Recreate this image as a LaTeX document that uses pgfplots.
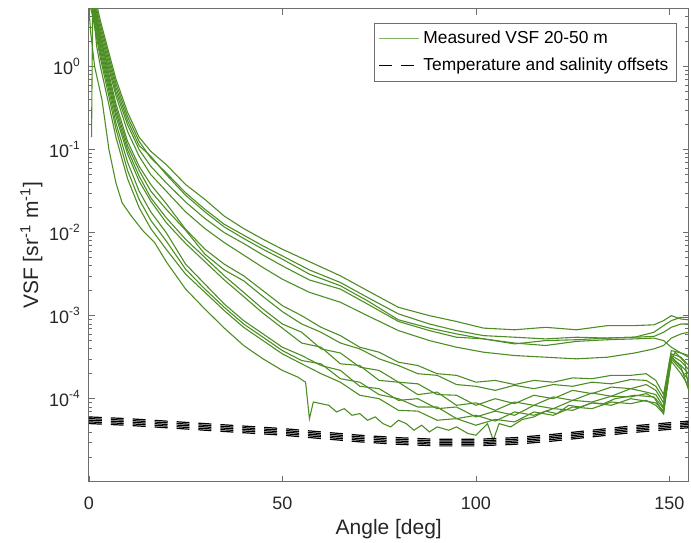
\documentclass[border=0pt]{standalone}
\usepackage{pgfplots}
\pgfplotsset{compat=1.18}
\usepackage{pgfplotstable}
\usepackage{fontspec}
\setmainfont{Liberation Sans}

\definecolor{vsfgreen}{RGB}{77,142,36}
\definecolor{axgray}{RGB}{110,110,110}
\definecolor{txtgray}{RGB}{38,38,38}

% measured VSF, upper group
\pgfplotstableread{
x      u1       u2       u3       u4       u5
0      15.8     12.6     10       10       7.94
1      8.91     7.94     7.08     6.31     5.62
2      5.62     5.01     4.47     3.98     3.55
3      3.55     3.16     2.82     2.51     2.24
5      1.58     1.41     1.26     1.12     1.00
7      0.708    0.631    0.562    0.501    0.447
10     0.282    0.251    0.224    0.200    0.166
13     0.141    0.126    0.112    0.100    8.32e-2
16     9.55e-2  7.94e-2  8.32e-2  6.31e-2  5.01e-2
20     6.61e-2  5.25e-2  5.01e-2  3.98e-2  3.16e-2
25     3.80e-2  3.02e-2  2.82e-2  2.34e-2  1.78e-2
30     2.51e-2  1.91e-2  1.78e-2  1.48e-2  1.12e-2
35     1.58e-2  1.26e-2  1.17e-2  1.00e-2  7.59e-3
40     1.12e-2  9.33e-3  8.51e-3  7.41e-3  5.37e-3
45     8.32e-3  6.92e-3  6.31e-3  5.37e-3  3.80e-3
50     6.31e-3  5.25e-3  4.79e-3  3.98e-3  2.75e-3
57     4.47e-3  3.55e-3  3.16e-3  2.69e-3  1.91e-3
65     3.02e-3  2.51e-3  2.29e-3  2.09e-3  1.45e-3
72     2.00e-3  1.66e-3  1.51e-3  1.38e-3  1.00e-3
80     1.26e-3  1.05e-3  8.91e-4  8.51e-4  6.61e-4
88     1.00e-3  7.94e-4  7.08e-4  6.61e-4  5.01e-4
95     8.51e-4  6.61e-4  6.03e-4  5.50e-4  4.17e-4
102    7.08e-4  5.75e-4  5.25e-4  5.25e-4  3.63e-4
110    6.76e-4  5.50e-4  4.57e-4  4.68e-4  3.31e-4
118    7.24e-4  5.25e-4  5.01e-4  4.37e-4  3.16e-4
126    6.76e-4  5.50e-4  5.13e-4  4.90e-4  3.02e-4
134    7.59e-4  5.37e-4  5.37e-4  5.13e-4  3.16e-4
141    7.59e-4  5.50e-4  5.50e-4  5.25e-4  3.55e-4
146    7.76e-4  6.31e-4  5.62e-4  5.37e-4  3.98e-4
148.5  8.71e-4  7.59e-4  6.31e-4  5.01e-4  4.37e-4
150.5  1.00e-3  8.71e-4  7.24e-4  4.17e-4  5.37e-4
153    9.12e-4  9.55e-4  7.94e-4  3.55e-4  6.03e-4
155    8.91e-4  9.55e-4  7.94e-4  3.31e-4  6.31e-4
}\uppergrp

% measured VSF, lower group
\pgfplotstableread{
x      l1       l2       l3       l4       l5       l6
0      12.6     10       10       7.94     7.94     6.31
1      7.08     6.31     5.62     5.01     4.47     3.98
2      3.98     3.55     3.16     2.82     2.51     2.24
3      2.24     2.00     1.78     1.58     1.41     1.26
5      0.891    0.794    0.708    0.631    0.562    0.479
7      0.355    0.316    0.282    0.251    0.209    0.178
10     0.126    0.112    0.100    8.91e-2  7.08e-2  5.62e-2
13     6.31e-2  5.62e-2  4.79e-2  4.17e-2  3.16e-2  2.51e-2
16     3.80e-2  3.16e-2  2.63e-2  2.40e-2  1.78e-2  1.41e-2
20     2.24e-2  1.91e-2  1.51e-2  1.32e-2  1.00e-2  7.94e-3
25     1.10e-2  1.07e-2  8.32e-3  7.41e-3  4.17e-3  3.63e-3
30     6.31e-3  5.50e-3  5.01e-3  4.47e-3  2.40e-3  2.09e-3
35     4.17e-3  3.55e-3  3.02e-3  2.69e-3  1.38e-3  1.26e-3
40     3.02e-3  2.63e-3  1.91e-3  1.70e-3  8.71e-4  7.94e-4
45     2.00e-3  1.70e-3  1.20e-3  1.07e-3  6.03e-4  5.50e-4
50     1.32e-3  1.12e-3  7.94e-4  7.08e-4  4.17e-4  3.80e-4
55     1.00e-3  7.94e-4  6.31e-4  4.68e-4  3.31e-4  2.88e-4
60     7.24e-4  6.31e-4  3.98e-4  4.17e-4  2.51e-4  2.63e-4
65     5.75e-4  4.68e-4  3.55e-4  2.63e-4  2.19e-4  1.74e-4
70     4.17e-4  3.98e-4  2.40e-4  2.51e-4  1.41e-4  1.58e-4
75     3.63e-4  3.02e-4  2.19e-4  1.66e-4  1.32e-4  1.12e-4
80     2.75e-4  2.51e-4  1.58e-4  1.58e-4  9.55e-5  1.00e-4
85     2.51e-4  2.00e-4  1.51e-4  1.12e-4  1.00e-4  7.94e-5
90     2.00e-4  1.91e-4  1.12e-4  1.20e-4  7.59e-5  7.94e-5
95     1.91e-4  1.48e-4  1.10e-4  8.32e-5  7.94e-5  5.75e-5
100    1.58e-4  1.41e-4  8.32e-5  8.91e-5  6.03e-5  6.31e-5
105    1.66e-4  1.26e-4  1.00e-4  7.24e-5  7.08e-5  5.37e-5
110    1.48e-4  1.45e-4  8.71e-5  9.12e-5  6.31e-5  6.92e-5
115    1.66e-4  1.32e-4  1.10e-4  8.32e-5  8.32e-5  6.31e-5
120    1.58e-4  1.48e-4  1.00e-4  1.05e-4  7.59e-5  7.59e-5
125    1.78e-4  1.41e-4  1.26e-4  9.55e-5  9.55e-5  7.24e-5
130    1.74e-4  1.58e-4  1.15e-4  1.17e-4  9.12e-5  8.91e-5
135    1.91e-4  1.51e-4  1.38e-4  1.07e-4  1.07e-4  8.32e-5
140    1.91e-4  1.70e-4  1.32e-4  1.32e-4  1.05e-4  1.00e-4
144    2.00e-4  1.66e-4  1.48e-4  1.20e-4  1.15e-4  9.33e-5
146.5  1.66e-4  1.41e-4  1.26e-4  1.12e-4  1.00e-4  8.91e-5
148.5  1.12e-4  1.00e-4  8.91e-5  7.94e-5  7.59e-5  7.08e-5
150.5  3.80e-4  3.47e-4  3.31e-4  3.16e-4  3.02e-4  2.82e-4
153    3.55e-4  3.16e-4  2.82e-4  2.51e-4  2.24e-4  2.00e-4
155    3.16e-4  2.51e-4  2.24e-4  2.00e-4  1.66e-4  1.41e-4
}\lowergrp

% temperature and salinity offsets
\pgfplotstableread{
x    d1       d2       d3       d4       d5
0    6.03e-5  5.76e-5  5.50e-5  5.25e-5  5.02e-5
10   5.75e-5  5.49e-5  5.24e-5  5.01e-5  4.78e-5
20   5.37e-5  5.13e-5  4.90e-5  4.68e-5  4.47e-5
30   5.01e-5  4.78e-5  4.57e-5  4.36e-5  4.17e-5
40   4.68e-5  4.47e-5  4.27e-5  4.08e-5  3.89e-5
50   4.37e-5  4.17e-5  3.99e-5  3.81e-5  3.64e-5
60   3.98e-5  3.80e-5  3.63e-5  3.47e-5  3.31e-5
70   3.63e-5  3.47e-5  3.31e-5  3.16e-5  3.02e-5
80   3.39e-5  3.24e-5  3.09e-5  2.95e-5  2.82e-5
90   3.24e-5  3.09e-5  2.95e-5  2.82e-5  2.70e-5
100  3.24e-5  3.09e-5  2.95e-5  2.82e-5  2.70e-5
110  3.39e-5  3.24e-5  3.09e-5  2.95e-5  2.82e-5
120  3.72e-5  3.55e-5  3.39e-5  3.24e-5  3.09e-5
130  4.17e-5  3.98e-5  3.80e-5  3.63e-5  3.47e-5
140  4.68e-5  4.47e-5  4.27e-5  4.08e-5  3.89e-5
150  5.13e-5  4.90e-5  4.68e-5  4.47e-5  4.27e-5
155  5.37e-5  5.13e-5  4.90e-5  4.68e-5  4.47e-5
}\offsetdata

\begin{document}
\begin{tikzpicture}
\begin{axis}[
    width=300.5pt, height=237pt, scale only axis,
    xmin=0, xmax=155,
    ymode=log, ymin=1e-5, ymax=5,
    xtick={0,50,100,150},
    ytick={1e-4,1e-3,1e-2,1e-1,1},
    yticklabels={10\textsuperscript{-4},10\textsuperscript{-3},10\textsuperscript{-2},10\textsuperscript{-1},10\textsuperscript{0}},
    minor ytick={2e-5,3e-5,4e-5,5e-5,6e-5,7e-5,8e-5,9e-5,
                 2e-4,3e-4,4e-4,5e-4,6e-4,7e-4,8e-4,9e-4,
                 2e-3,3e-3,4e-3,5e-3,6e-3,7e-3,8e-3,9e-3,
                 2e-2,3e-2,4e-2,5e-2,6e-2,7e-2,8e-2,9e-2,
                 0.2,0.3,0.4,0.5,0.6,0.7,0.8,0.9,2,3,4},
    tick align=inside,
    major tick length=3pt, minor tick length=1.8pt,
    axis line style={axgray},
    tick style={axgray},
    /pgf/number format/assume math mode=true,
    tick label style={font=\fontsize{9}{10}\selectfont, text=txtgray},
    xticklabel style={yshift=-4pt},
    yticklabel style={xshift=-0.5pt},
    every axis x label/.style={at={(axis description cs:0.5,-0.078)}, anchor=north, inner sep=0pt,
        font=\fontsize{10.5}{12}\selectfont, text=txtgray},
    every axis y label/.style={at={(axis description cs:-0.0765,0.5)}, anchor=south, rotate=90, inner sep=0pt,
        font=\fontsize{10.5}{12}\selectfont, text=txtgray},
    xlabel={Angle [deg]},
    ylabel={VSF [sr\textsuperscript{-1} m\textsuperscript{-1}]},
    legend style={at={(0.98,0.9705)}, anchor=north east, draw=axgray,
        font=\fontsize{8.7}{10}\selectfont, text=black, row sep=1.5pt,
        inner xsep=2pt, inner ysep=2pt},
    legend cell align=left,
    legend image code/.code={\draw[#1] (0pt,0pt) -- (20pt,0pt);},
    every axis plot/.append style={forget plot},
]

\addlegendimage{vsfgreen!70, line width=0.55pt}
\addlegendentry{Measured VSF 20-50 m}
\addlegendimage{black, line width=0.6pt, dash pattern=on 6.5pt off 4.5pt}
\addlegendentry{Temperature and salinity offsets}

% measured curves
\foreach \c in {u1,u2,u3,u4,u5} {
  \addplot[vsfgreen, line width=0.55pt] table[x=x, y=\c] {\uppergrp};
}
\foreach \c in {l1,l2,l3,l4,l5,l6} {
  \addplot[vsfgreen, line width=0.55pt] table[x=x, y=\c] {\lowergrp};
}
\addplot[vsfgreen, line width=0.55pt] coordinates {
(0.7,0.141) (1,6.31) (2,1.78) (3,1.00) (5,0.380) (7,0.141) (10,4.47e-2) (13,2.00e-2)
(16,1.12e-2) (20,6.31e-3) (25,3.16e-3) (30,1.91e-3) (35,1.15e-3) (40,7.24e-4) (45,5.01e-4)
(50,3.47e-4) (55,2.63e-4) (60,2.00e-4) (65,1.58e-4) (70,1.10e-4) (75,1.00e-4) (80,7.24e-5)
(85,7.08e-5) (90,5.50e-5) (95,5.75e-5) (100,4.79e-5) (105,5.62e-5) (110,5.25e-5) (115,6.92e-5)
(120,6.31e-5) (125,7.94e-5) (130,7.59e-5) (135,9.12e-5) (140,8.71e-5) (144,9.55e-5)
(146.5,8.32e-5) (148.5,6.61e-5) (150.5,3.16e-4) (153,2.40e-4) (155,1.26e-4)
};
\addplot[vsfgreen, line width=0.55pt] coordinates {
(0,5.01) (0.5,2.51) (1.5,1.00) (3.4,0.398) (5.2,0.100) (7,3.98e-2) (8.6,2.29e-2) (11,1.58e-2)
(14,1.05e-2) (17,7.59e-3) (20,4.47e-3) (25,2.09e-3) (30,1.20e-3) (35,7.08e-4) (40,4.37e-4)
(45,3.02e-4) (50,2.19e-4) (54,1.82e-4) (56,1.58e-4) (57,5.75e-5) (58,9.12e-5) (62,8.32e-5)
(64,6.92e-5) (66,7.59e-5) (68,6.31e-5) (70,6.61e-5) (72,5.50e-5) (74,6.03e-5) (76,5.01e-5)
(78,4.57e-5) (80,5.50e-5) (82,5.01e-5) (84,4.17e-5) (86,4.79e-5) (88,3.98e-5) (90,4.57e-5)
(93,4.17e-5) (95,4.57e-5) (98,3.80e-5) (100,3.63e-5) (103,5.01e-5) (104.5,3.16e-5) (106,5.01e-5)
(109,4.57e-5) (112,5.62e-5) (115,6.03e-5) (118,7.08e-5) (121,6.61e-5) (124,8.32e-5) (127,7.94e-5)
(130,8.91e-5) (133,8.71e-5) (136,1.00e-4) (141,1.10e-4) (146,1.05e-4) (148.5,6.61e-5)
(150,2.75e-4) (151.5,3.63e-4) (154,2.75e-4) (155,1.32e-4)
};

% offsets
\foreach \c in {d1,d2,d3,d4,d5} {
  \addplot[black, line width=0.6pt, dash pattern=on 6.5pt off 4.5pt] table[x=x, y=\c] {\offsetdata};
}

\end{axis}
\path ([xshift=-44.5pt,yshift=-30.5pt]current axis.south west)
  rectangle ([xshift=0.5pt,yshift=4.3pt]current axis.north east);
\end{tikzpicture}
\end{document}
